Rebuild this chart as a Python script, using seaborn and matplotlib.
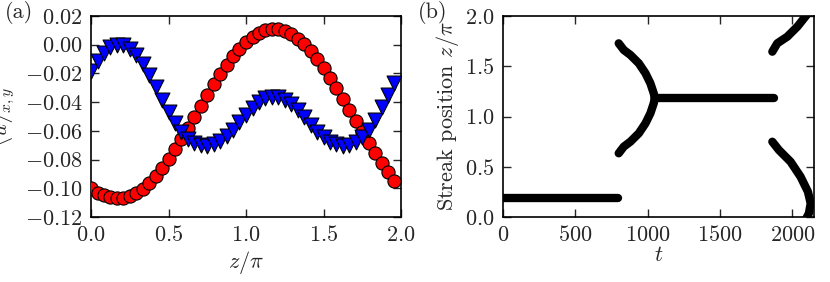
import numpy as np
import pandas as pd
import matplotlib
matplotlib.use('Agg')
import matplotlib.pyplot as plt
import seaborn as sns

# (a) mean streamwise velocity profiles, z/pi on x
z_pi = [0.000, 0.042, 0.083, 0.125, 0.167, 0.208, 0.250, 0.292, 0.333, 0.375,
        0.417, 0.458, 0.500, 0.542, 0.583, 0.625, 0.667, 0.708, 0.750, 0.792,
        0.833, 0.875, 0.917, 0.958, 1.000, 1.042, 1.083, 1.125, 1.167, 1.208,
        1.250, 1.292, 1.333, 1.375, 1.417, 1.458, 1.500, 1.542, 1.583, 1.625,
        1.667, 1.708, 1.750, 1.792, 1.833, 1.875, 1.917, 1.958]
u_red = [-0.1000, -0.1030, -0.1050, -0.1063, -0.1069, -0.1068, -0.1056, -0.1034,
         -0.1003, -0.0963, -0.0914, -0.0858, -0.0796, -0.0728, -0.0656, -0.0581,
         -0.0505, -0.0428, -0.0351, -0.0277, -0.0207, -0.0141, -0.0081, -0.0027,
         0.0018, 0.0055, 0.0083, 0.0101, 0.0109, 0.0108, 0.0096, 0.0074,
         0.0043, 0.0003, -0.0046, -0.0102, -0.0164, -0.0232, -0.0304, -0.0379,
         -0.0455, -0.0532, -0.0609, -0.0683, -0.0753, -0.0822, -0.0885, -0.0950]
u_blue = [-0.0183, -0.0113, -0.0056, -0.0019, -0.0001, -0.0005, -0.0030, -0.0075,
          -0.0136, -0.0212, -0.0295, -0.0383, -0.0469, -0.0548, -0.0610, -0.0655,
          -0.0685, -0.0700, -0.0702, -0.0690, -0.0668, -0.0635, -0.0592, -0.0540,
          -0.0487, -0.0439, -0.0400, -0.0373, -0.0361, -0.0363, -0.0382, -0.0413,
          -0.0456, -0.0506, -0.0559, -0.0605, -0.0645, -0.0675, -0.0695, -0.0702,
          -0.0697, -0.0680, -0.0645, -0.0594, -0.0521, -0.0437, -0.0351, -0.0264]

# (b) streak positions vs time, one list per streak branch
streak_t = {
    's1': [0, 797],
    's2': [800, 835, 881, 939, 985, 1019, 1042, 1049],
    's3': [800, 835, 881, 939, 985, 1019, 1042, 1049],
    's4': [1049, 1873],
    's5': [1862, 1896, 1965, 2035, 2099, 2112],
    's6': [1862, 1907, 1988, 2057, 2108, 2127, 2115, 2080],
}
streak_z = {
    's1': [0.185, 0.185],
    's2': [1.728, 1.662, 1.612, 1.529, 1.430, 1.330, 1.231, 1.181],
    's3': [0.634, 0.700, 0.750, 0.833, 0.932, 1.032, 1.131, 1.181],
    's4': [1.181, 1.181],
    's5': [1.645, 1.728, 1.794, 1.894, 2.010, 2.040],
    's6': [0.749, 0.667, 0.550, 0.401, 0.252, 0.136, 0.037, -0.060],
}

sns.set_style('ticks', {'xtick.direction': 'in', 'ytick.direction': 'in',
                        'axes.edgecolor': 'black'})
fs = 16
plt.rcParams.update({
    'font.family': 'serif',
    'font.serif': ['cmr10'],
    'mathtext.fontset': 'cm',
    'axes.formatter.use_mathtext': True,
    'font.size': fs,
    'axes.linewidth': 1.2,
})

fig = plt.figure(figsize=(8.3, 2.82), dpi=100)
ax1 = fig.add_axes([91 / 830, 65 / 282, 310 / 830, 201 / 282])
ax2 = fig.add_axes([503 / 830, 65 / 282, 311 / 830, 201 / 282])

prof = pd.DataFrame({'z': z_pi, 'red': u_red, 'blue': u_blue})
sns.scatterplot(data=prof, x='z', y='red', marker='o', s=90, color='red',
                edgecolor='black', linewidth=0.8, ax=ax1, zorder=3)
sns.scatterplot(data=prof, x='z', y='blue', marker='v', s=115, color='blue',
                edgecolor='black', linewidth=0.8, ax=ax1, zorder=4)
ax1.set_xlim(0, 2)
ax1.set_ylim(-0.12, 0.02)
ax1.set_xticks([0, 0.5, 1.0, 1.5, 2.0])
ax1.set_yticks(np.arange(-0.12, 0.021, 0.02))
ax1.set_xlabel(r'$z/\pi$', labelpad=3)
ax1.set_ylabel(r'$\langle u\rangle_{x,y}$')
ax1.yaxis.set_label_coords(-0.24, 0.5)

rows = []
for key in streak_t:
    for t, z in zip(streak_t[key], streak_z[key]):
        rows.append({'t': t, 'z': z, 'seg': key})
streaks = pd.DataFrame(rows)
sns.lineplot(data=streaks, x='t', y='z', units='seg', estimator=None, sort=False,
             color='black', linewidth=6, solid_capstyle='round', ax=ax2)
ax2.set_xlim(0, 2150)
ax2.set_ylim(0, 2)
ax2.set_xticks([0, 500, 1000, 1500, 2000])
ax2.set_yticks([0, 0.5, 1.0, 1.5, 2.0])
ax2.set_xlabel(r'$t$', labelpad=0)
ax2.set_ylabel(r'Streak position $z/\pi$', labelpad=3)

for ax in (ax1, ax2):
    ax.tick_params(top=True, right=True, direction='in', length=6, width=1,
                   pad=6, labelsize=fs)
    for sp in ax.spines.values():
        sp.set_linewidth(1.2)
        sp.set_visible(True)

fig.text(5 / 830, 1 - 18 / 282, '(a)', fontsize=fs)
fig.text(418 / 830, 1 - 18 / 282, '(b)', fontsize=fs)

fig.savefig('out.png', dpi=100)
